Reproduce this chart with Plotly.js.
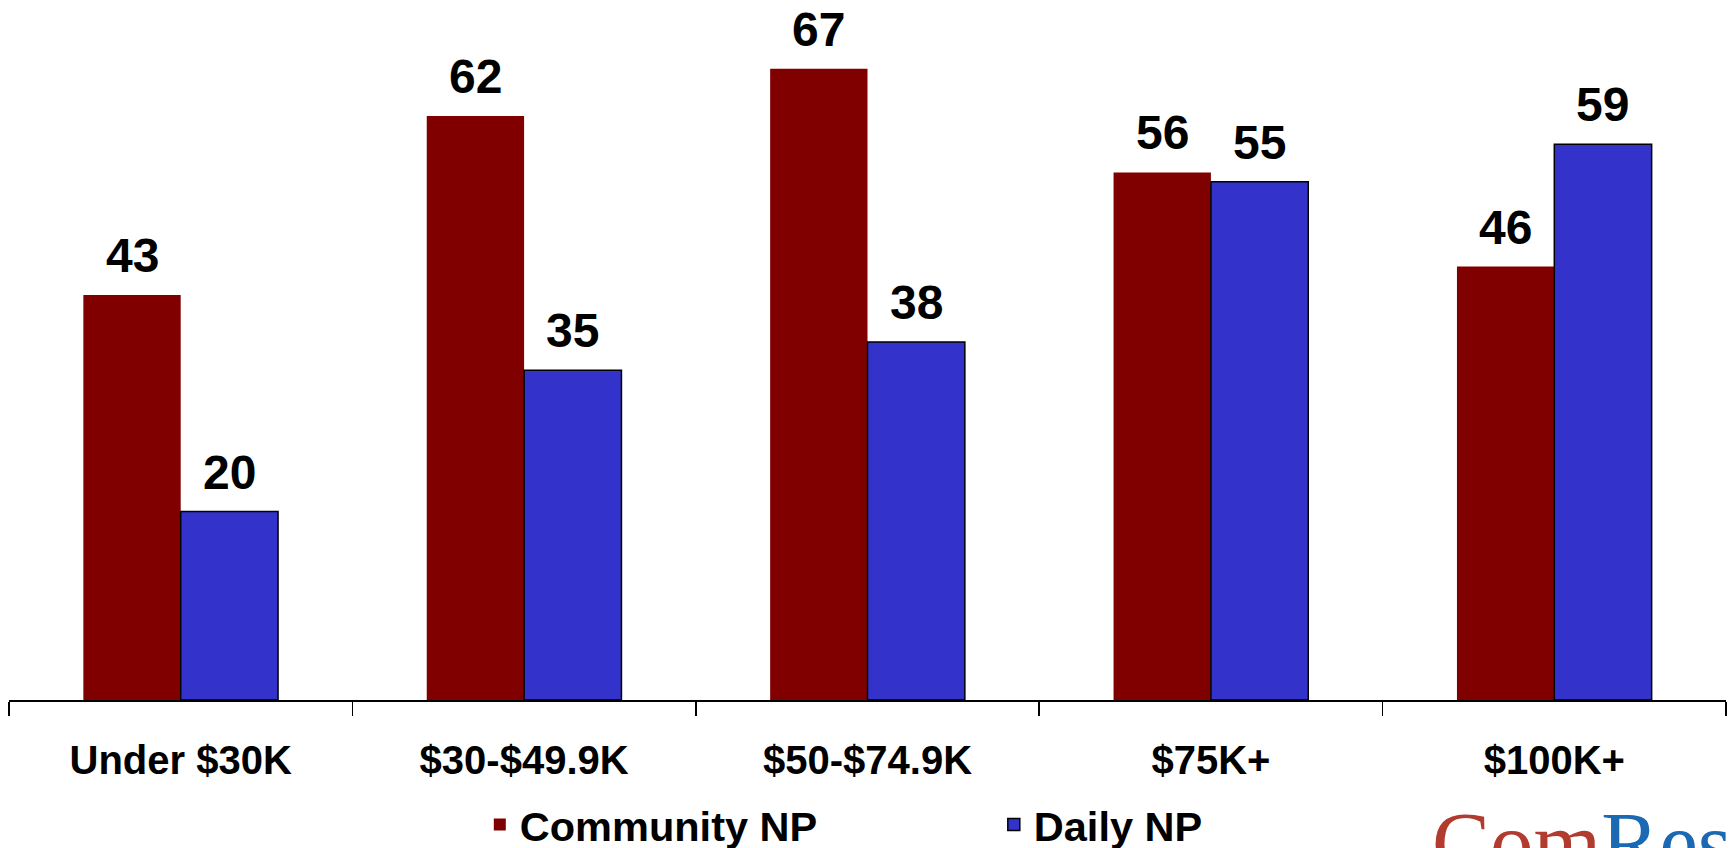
<!DOCTYPE html>
<html>
<head>
<meta charset="utf-8">
<script src="https://cdn.plot.ly/plotly-3.0.1.min.js"></script>
<style>html,body{margin:0;padding:0;background:#fff;}#chart{width:1734px;height:848px;}</style>
</head>
<body>
<div id="chart"></div>
<script>
var categories = ['Under $30K', '$30-$49.9K', '$50-$74.9K', '$75K+', '$100K+'];
var communityNP = [43, 62, 67, 56, 46];
var dailyNP = [20, 35, 38, 55, 59];
var seriesNames = ['Community NP', 'Daily NP'];

var W = 1734, H = 848;
var M = {l: 9, r: 8, t: 0, b: 148};
var BARGAP = 0.433;
var plotW = W - M.l - M.r;
var barHalf = plotW / categories.length * (1 - BARGAP) / 4; // half of one bar's width in px

var fontFam = 'Liberation Sans, Arial, sans-serif';
var labelFont = {family: fontFam, size: 48, color: '#000', weight: 'bold'};

var traces = [
  {
    type: 'bar', name: seriesNames[0], x: categories, y: communityNP,
    marker: {color: '#800000', line: {width: 0}},
    hoverinfo: 'x+y+name'
  },
  {
    type: 'bar', name: seriesNames[1], x: categories, y: dailyNP,
    marker: {color: '#3333CC', line: {width: 1.5, color: '#000'}},
    hoverinfo: 'x+y+name'
  }
];

var annotations = [];
[communityNP, dailyNP].forEach(function (vals, s) {
  vals.forEach(function (v, i) {
    annotations.push({
      xref: 'x', yref: 'y', x: categories[i], y: v,
      xshift: (s === 0 ? -1 : 1) * barHalf, yshift: 11,
      xanchor: 'center', yanchor: 'bottom', showarrow: false,
      text: String(v), font: labelFont
    });
  });
});
annotations.push({
  xref: 'paper', yref: 'paper', x: (1430 - M.l) / plotW, y: -0.1314, xanchor: 'left', yanchor: 'top',
  showarrow: false,
  text: '<span style="color:#b23b2f">Com</span><span style="color:#1b68b3">Res</span>',
  font: {family: 'Liberation Serif, Times New Roman, serif', size: 87}
});

var layout = {
  width: W, height: H,
  margin: {l: M.l, r: M.r, t: M.t, b: M.b, autoexpand: false},
  paper_bgcolor: '#fff', plot_bgcolor: '#fff',
  barmode: 'group', bargap: BARGAP, bargroupgap: 0,
  xaxis: {
    type: 'category', range: [-0.5, 4.5],
    showline: true, linecolor: '#000', linewidth: 2,
    ticks: 'outside', tickson: 'boundaries', ticklen: 14, tickwidth: 1.5, tickcolor: '#000',
    showgrid: false, zeroline: false, ticklabelstandoff: 24,
    tickfont: {family: fontFam, size: 40, color: '#000', weight: 'bold'}
  },
  yaxis: {range: [0, 74.3], visible: false, showgrid: false, zeroline: false},
  showlegend: true,
  legend: {
    orientation: 'h', x: 0.2742, xanchor: 'left', y: -0.178, yanchor: 'middle',
    entrywidth: 469, entrywidthmode: 'pixels', traceorder: 'normal',
    font: {family: fontFam, size: 41.5, color: '#000', weight: 'bold'},
    bgcolor: 'rgba(0,0,0,0)'
  },
  annotations: annotations
};

Plotly.newPlot('chart', traces, layout, {staticPlot: true, displayModeBar: false});
</script>
</body>
</html>
